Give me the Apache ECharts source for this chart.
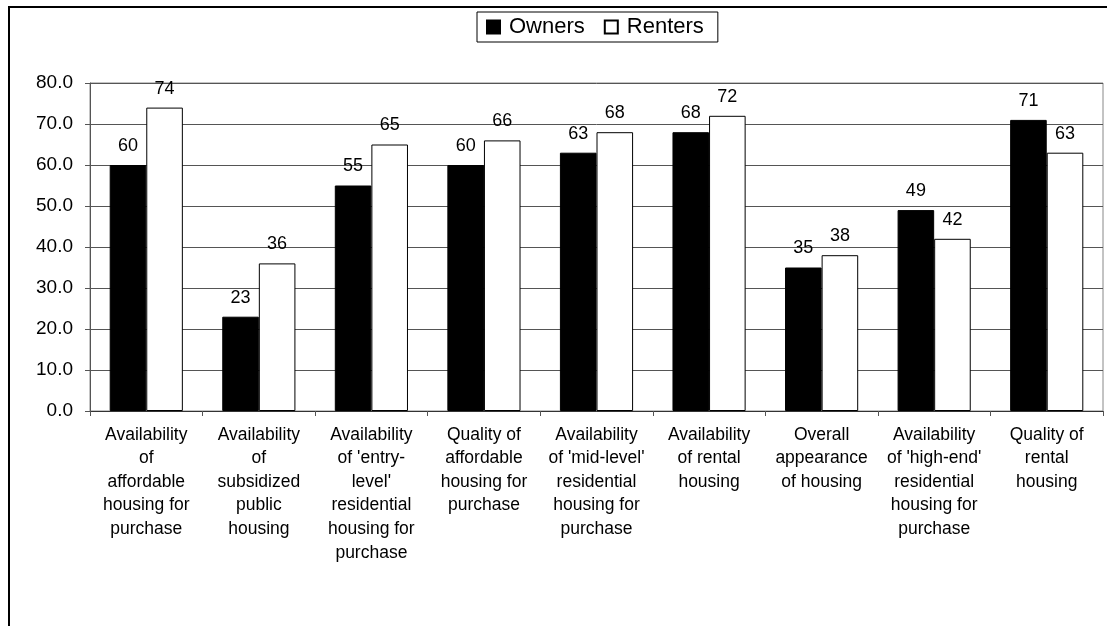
<!DOCTYPE html>
<html>
<head>
<meta charset="utf-8">
<script src="https://cdn.jsdelivr.net/npm/echarts@6/dist/echarts.min.js"></script>
<style>
  html, body { margin: 0; padding: 0; background: #fff; }
  #chart { width: 1107px; height: 626px; }
</style>
</head>
<body>
<div id="chart"></div>
<script>
// Housing attribute ratings by tenure
const categories = [
  "Availability\nof\naffordable\nhousing for\npurchase",
  "Availability\nof\nsubsidized\npublic\nhousing",
  "Availability\nof 'entry-\nlevel'\nresidential\nhousing for\npurchase",
  "Quality of\naffordable\nhousing for\npurchase",
  "Availability\nof 'mid-level'\nresidential\nhousing for\npurchase",
  "Availability\nof rental\nhousing",
  "Overall\nappearance\nof housing",
  "Availability\nof 'high-end'\nresidential\nhousing for\npurchase",
  "Quality of\nrental\nhousing"
];
const owners = [60, 23, 55, 60, 63, 68, 35, 49, 71];
const renters = [74, 36, 65, 66, 68, 72, 38, 42, 63];
const seriesNames = ["Owners", "Renters"];

const FONT = "Liberation Sans, Arial, sans-serif";

const chart = echarts.init(document.getElementById('chart'), null, { renderer: 'canvas' });

const valueLabel = {
  show: true,
  position: 'top',
  distance: 10,
  fontFamily: FONT,
  fontSize: 18,
  color: '#000'
};

chart.setOption({
  animation: false,
  backgroundColor: '#fff',
  textStyle: { fontFamily: FONT },
  graphic: [{
    type: 'rect',
    silent: true,
    z: 100,
    shape: { x: 9, y: 7, width: 1200, height: 700 },
    style: { fill: 'none', stroke: '#000', lineWidth: 2 }
  }],
  legend: {
    data: seriesNames,
    left: 477,
    top: 12,
    padding: [4, 14, 4, 9],
    itemGap: 19,
    itemWidth: 13,
    itemHeight: 13,
    icon: 'rect',
    borderColor: '#000',
    borderWidth: 1,
    textStyle: { fontFamily: FONT, fontSize: 22, color: '#000', padding: [0, 0, 0, 4] }
  },
  grid: {
    left: 90,
    right: 4,
    top: 83,
    bottom: 215,
    show: true,
    borderColor: '#888',
    borderWidth: 1
  },
  xAxis: {
    type: 'category',
    data: categories,
    axisLine: { lineStyle: { color: '#333', width: 1 } },
    axisTick: { show: true, length: 5, interval: 0, lineStyle: { color: '#555' } },
    axisLabel: {
      interval: 0,
      margin: 12,
      fontFamily: FONT,
      fontSize: 17.5,
      lineHeight: 23.6,
      color: '#000',
      align: 'center'
    }
  },
  yAxis: {
    type: 'value',
    min: 0,
    max: 80,
    interval: 10,
    axisLine: { show: true, lineStyle: { color: '#555', width: 1 } },
    axisTick: { show: true, length: 5, lineStyle: { color: '#555' } },
    axisLabel: {
      margin: 17,
      fontFamily: FONT,
      fontSize: 19,
      color: '#000',
      formatter: v => v.toFixed(1)
    },
    splitLine: { show: true, lineStyle: { color: '#555', width: 1 } }
  },
  series: [
    {
      name: seriesNames[0],
      type: 'bar',
      data: owners,
      barGap: '0%',
      barCategoryGap: '35%',
      itemStyle: { color: '#000', borderColor: '#000', borderWidth: 1 },
      label: valueLabel
    },
    {
      name: seriesNames[1],
      type: 'bar',
      data: renters,
      barGap: '0%',
      barCategoryGap: '35%',
      itemStyle: { color: '#fff', borderColor: '#000', borderWidth: 1 },
      label: valueLabel
    }
  ]
});
</script>
</body>
</html>
